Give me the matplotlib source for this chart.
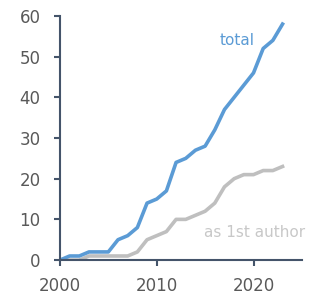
import numpy as np
import matplotlib
matplotlib.use("Agg")
import matplotlib.pyplot as plt

years = np.arange(2000, 2024)
total = [0, 1, 1, 2, 2, 2, 5, 6, 8, 14, 15, 17, 24, 25, 27, 28,
         32, 37, 40, 43, 46, 52, 54, 58]
first_author = [0, 0, 0, 1, 1, 1, 1, 1, 2, 5, 6, 7, 10, 10, 11, 12,
                14, 18, 20, 21, 21, 22, 22, 23]

BLUE = "#5B9BD5"
GREY = "#BFBFBF"
AXIS = "#44546A"
TEXT = "#595959"

plt.rcParams['font.family'] = ['DejaVu Sans']

fig = plt.figure(figsize=(3.09, 3.01), dpi=100)
ax = fig.add_axes([0.194, 0.136, 0.783, 0.811])

ax.plot(years, first_author, color=GREY, lw=2.6, solid_joinstyle='round')
ax.plot(years, total, color=BLUE, lw=2.6, solid_joinstyle='round')

ax.set_xlim(2000, 2025)
ax.set_ylim(0, 60)
ax.set_xticks([2000, 2010, 2020])
ax.set_yticks(np.arange(0, 61, 10))

for s in ['top', 'right']:
    ax.spines[s].set_visible(False)
for s in ['left', 'bottom']:
    ax.spines[s].set_color(AXIS)
    ax.spines[s].set_linewidth(1.5)

ax.tick_params(axis='both', colors=AXIS, width=1.5, length=4,
               labelsize=12, labelcolor=TEXT, pad=10)
ax.tick_params(axis='x', pad=8)

ax.text(2016.5, 52.8, "total", color=BLUE, fontsize=11, va='baseline')
ax.text(2014.85, 5.65, "as 1st author", color="#C8C8C8", fontsize=11,
        va='baseline')

fig.savefig("out.png", dpi=100)
